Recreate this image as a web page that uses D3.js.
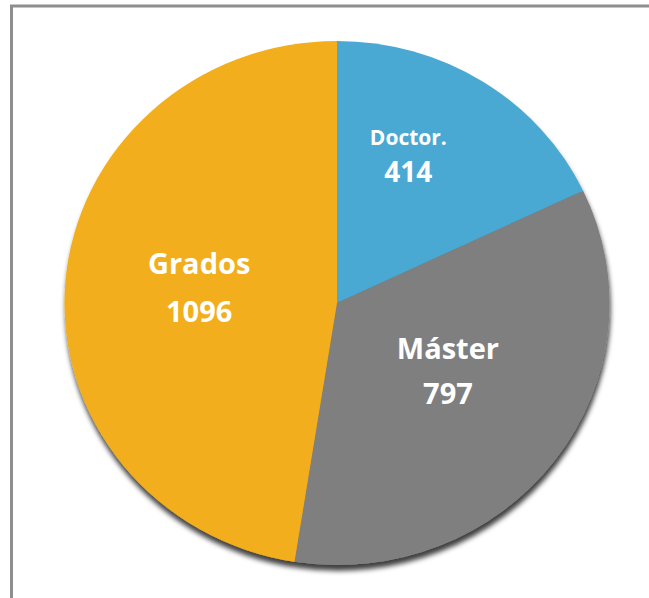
<!DOCTYPE html>
<html>
<head>
<meta charset="utf-8">
<script src="https://cdn.jsdelivr.net/npm/d3@7"></script>
<style>
  html, body { margin: 0; padding: 0; background: #ffffff; }
  svg { display: block; }
</style>
</head>
<body>
<svg id="chart" width="649" height="598"></svg>
<script>
// Students by programme type
const categories = ["Doctor.", "Máster", "Grados"];
const values = [414, 797, 1096];
const colors = ["#4aa9d3", "#7f7f7f", "#f2ae1a"];

const svg = d3.select("#chart");
const W = 649, H = 598;

// panel frame (top and left edges visible)
svg.append("rect").attr("x", 0).attr("y", 0).attr("width", W).attr("height", H).attr("fill", "#ffffff");
svg.append("line").attr("x1", 10).attr("x2", W).attr("y1", 6).attr("y2", 6)
  .attr("stroke", "#8e8e8e").attr("stroke-width", 3);
svg.append("line").attr("x1", 11.5).attr("x2", 11.5).attr("y1", 5).attr("y2", H)
  .attr("stroke", "#8e8e8e").attr("stroke-width", 3);

const defs = svg.append("defs");
const f = defs.append("filter").attr("id", "shadow")
  .attr("x", "-10%").attr("y", "-10%").attr("width", "120%").attr("height", "125%");
f.append("feDropShadow").attr("dx", 1).attr("dy", 6).attr("stdDeviation", 2.5)
  .attr("flood-color", "#000").attr("flood-opacity", 0.75);

const cx = 337, cy = 303, rx = 272.5, ry = 262;
const sy = ry / rx;

const pie = d3.pie().sort(null).value(d => d);
const arcs = pie(values);
const arc = d3.arc().innerRadius(0).outerRadius(rx);

const g = svg.append("g")
  .attr("transform", `translate(${cx},${cy}) scale(1,${sy})`)
  .attr("filter", "url(#shadow)");

g.selectAll("path").data(arcs).enter().append("path")
  .attr("d", arc)
  .attr("fill", (d, i) => colors[i]);

// label placement per slice: radius share, nudge, font sizes and line gap
const labelStyle = [
  { r: 0.60, dx: -16, dy: -12, s1: 21, s2: 28, gap: 37 },
  { r: 0.49, dx: 4, dy: -9, s1: 29, s2: 29, gap: 45 },
  { r: 0.50, dx: -2, dy: -7, s1: 29, s2: 29, gap: 48 }
];

const font = "'Open Sans', 'DejaVu Sans', sans-serif";
const labels = svg.append("g");
arcs.forEach((d, i) => {
  const st = labelStyle[i];
  const a = (d.startAngle + d.endAngle) / 2;
  const r = rx * st.r;
  const x = cx + r * Math.sin(a) + st.dx;
  const y = cy - r * Math.cos(a) * sy + st.dy - (i === 0 ? 13 : 12);
  labels.append("text")
    .attr("x", x).attr("y", y)
    .attr("text-anchor", "middle")
    .attr("font-family", font).attr("font-weight", 700)
    .attr("font-size", st.s1).attr("fill", "#ffffff")
    .text(categories[i]);
  labels.append("text")
    .attr("x", x).attr("y", y + st.gap)
    .attr("text-anchor", "middle")
    .attr("font-family", font).attr("font-weight", 700)
    .attr("font-size", st.s2).attr("fill", "#ffffff")
    .text(values[i]);
});
</script>
</body>
</html>
